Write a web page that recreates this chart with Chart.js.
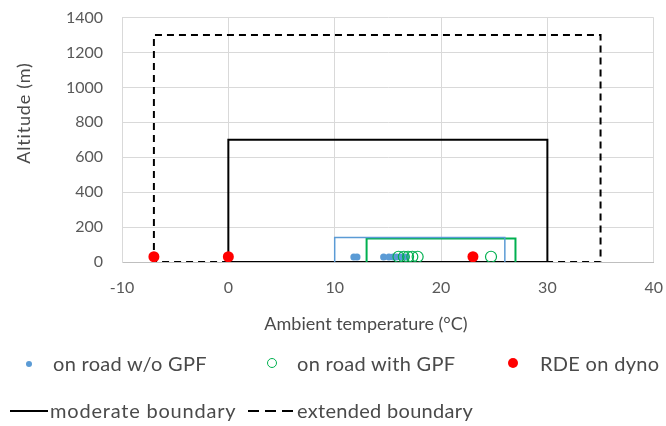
<!DOCTYPE html>
<html>
<head>
<meta charset="utf-8">
<script src="https://cdn.jsdelivr.net/npm/chart.js@4.4.1/dist/chart.umd.min.js"></script>
<style>
  html, body { margin: 0; padding: 0; background: #fff; }
  #wrap { position: relative; width: 666px; height: 426px; overflow: hidden; }
  canvas { position: absolute; left: 0; top: -11px; }
  .lg { position: absolute; font-family: Lato, sans-serif; font-size: 20px; letter-spacing: 0.3px; color: #4a4a4a; white-space: nowrap; line-height: 24px; }
  .ttl { position: absolute; font-family: Lato, sans-serif; font-size: 18px; color: #4a4a4a; white-space: nowrap; line-height: 22px; }
  .sym { position: absolute; }
</style>
</head>
<body>
<div id="wrap">
  <canvas id="c" width="679" height="437"></canvas>
  <div class="ttl" id="ytitle" style="left:23px;top:113px;transform:translate(-50%,-50%) rotate(-90deg);letter-spacing:0.8px;">Altitude (m)</div>
  <div class="ttl" id="xtitle" style="left:366px;top:323px;transform:translate(-50%,-50%);">Ambient temperature (°C)</div>

  <div class="sym" style="left:26px;top:361px;width:6px;height:6px;border-radius:50%;background:#5B9BD5;"></div>
  <div class="lg" style="left:53px;top:351px;">on road w/o GPF</div>
  <div class="sym" style="left:267px;top:358px;width:10px;height:10px;border-radius:50%;border:1.3px solid #00B050;box-sizing:border-box;"></div>
  <div class="lg" style="left:297px;top:351px;">on road with GPF</div>
  <div class="sym" style="left:508px;top:358px;width:10px;height:10px;border-radius:50%;background:#FF0000;"></div>
  <div class="lg" style="left:540px;top:351px;">RDE on dyno</div>

  <svg class="sym" style="left:0;top:400px;" width="300" height="22">
    <line x1="10" y1="11" x2="48" y2="11" stroke="#000" stroke-width="2"/>
    <line x1="248" y1="11" x2="295" y2="11" stroke="#000" stroke-width="2" stroke-dasharray="11,6"/>
  </svg>
  <div class="lg" style="left:50px;top:398px;letter-spacing:0.8px;">moderate boundary</div>
  <div class="lg" style="left:297px;top:398px;">extended boundary</div>
</div>
<script>
// Data
const onRoadNoGpfTemp = [11.8, 12.1, 14.6, 15.1, 15.5, 15.8, 16.2, 16.7];
const onRoadNoGpfAlt  = [28, 28, 28, 28, 28, 28, 28, 28];
const onRoadGpfTemp   = [16.0, 16.5, 16.9, 17.3, 17.8, 24.7];
const onRoadGpfAlt    = [30, 30, 30, 30, 30, 30];
const rdeDynoTemp     = [-7, 0, 23];
const rdeDynoAlt      = [30, 30, 30];
const moderateTemp    = [0, 0, 30, 30, 0];
const moderateAlt     = [0, 700, 700, 0, 0];
const extendedTemp    = [-7, -7, 35, 35, -7];
const extendedAlt     = [0, 1300, 1300, 0, 0];
const noGpfRangeTemp  = [10, 10, 26, 26];
const noGpfRangeAlt   = [0, 140, 140, 0];
const gpfRangeTemp    = [13, 13, 27, 27];
const gpfRangeAlt     = [0, 135, 135, 0];

const pts = (xs, ys) => xs.map((x, i) => ({ x: x, y: ys[i] }));

const tickFont = { family: 'Lato, sans-serif', size: 16 };

new Chart(document.getElementById('c'), {
  type: 'scatter',
  data: {
    datasets: [
      { label: 'RDE on dyno', data: pts(rdeDynoTemp, rdeDynoAlt), backgroundColor: '#FF0000', borderColor: '#FF0000', pointRadius: 5.5, borderWidth: 0 },
      { label: 'on road with GPF', data: pts(onRoadGpfTemp, onRoadGpfAlt), backgroundColor: 'rgba(0,0,0,0)', borderColor: '#00B050', pointRadius: 5.5, borderWidth: 1.2 },
      { label: 'on road w/o GPF', data: pts(onRoadNoGpfTemp, onRoadNoGpfAlt), backgroundColor: '#5B9BD5', borderColor: '#5B9BD5', pointRadius: 3.5, borderWidth: 0 },
      { label: 'w/o GPF range', data: pts(noGpfRangeTemp, noGpfRangeAlt), showLine: true, borderColor: '#5B9BD5', borderWidth: 1.5, pointRadius: 0, fill: false },
      { label: 'with GPF range', data: pts(gpfRangeTemp, gpfRangeAlt), showLine: true, borderColor: '#00B050', borderWidth: 2, pointRadius: 0, fill: false },
      { label: 'moderate boundary', data: pts(moderateTemp, moderateAlt), showLine: true, borderColor: '#000000', borderWidth: 2, pointRadius: 0, fill: false },
      { label: 'extended boundary', data: pts(extendedTemp, extendedAlt), showLine: true, borderColor: '#000000', borderWidth: 2, borderDash: [7, 5], pointRadius: 0, fill: false }
    ]
  },
  options: {
    responsive: false,
    animation: false,
    devicePixelRatio: 1,
    layout: { padding: { left: 10, right: 10, top: 6, bottom: 89 } },
    plugins: { legend: { display: false }, tooltip: { enabled: false } },
    scales: {
      x: {
        type: 'linear', min: -10, max: 40,
        ticks: { stepSize: 10, color: '#595959', font: tickFont, padding: 16, callback: v => String(v) },
        grid: { color: '#D9D9D9', drawTicks: false },
        border: { color: '#BFBFBF' },
        afterFit: s => { s.height = 75; }
      },
      y: {
        type: 'linear', min: 0, max: 1400,
        ticks: { stepSize: 200, color: '#595959', font: tickFont, padding: 19, callback: v => String(v) },
        grid: { color: '#D9D9D9', drawTicks: false },
        border: { color: '#D9D9D9' },
        afterFit: s => { s.width = 112; }
      }
    }
  }
});
</script>
</body>
</html>
